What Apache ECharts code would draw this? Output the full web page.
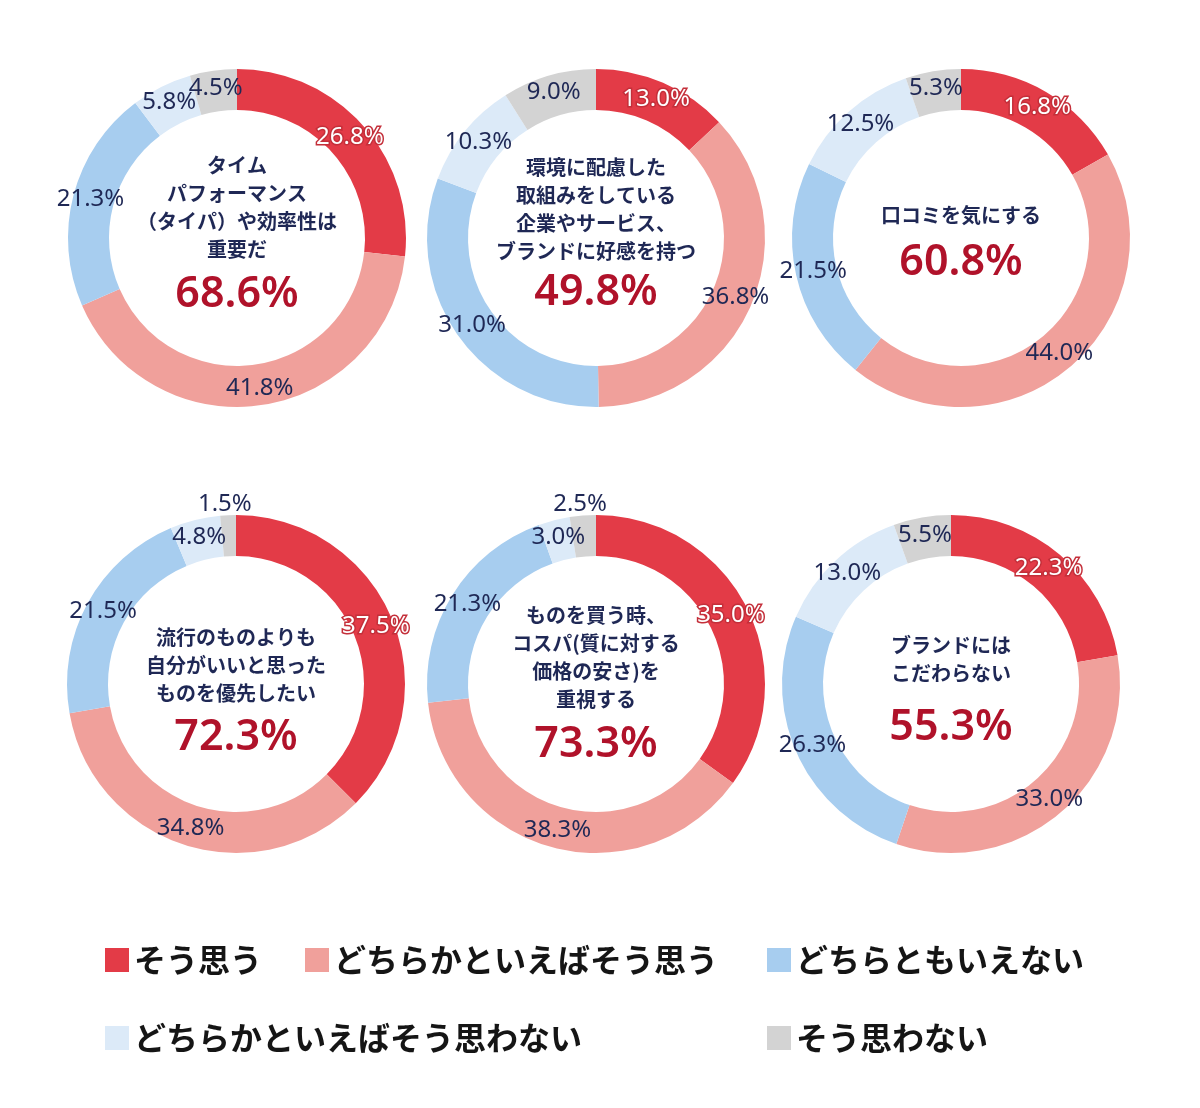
<!DOCTYPE html>
<html>
<head>
<meta charset="utf-8">
<script src="https://cdn.jsdelivr.net/npm/echarts@6/dist/echarts.min.js"></script>
<style>
html,body{margin:0;padding:0;background:#fff;}
#main{width:1200px;height:1108px;}
</style>
</head>
<body>
<div id="main"></div>
<script>
// 回答カテゴリ
var answers = ['そう思う','どちらかといえばそう思う','どちらともいえない','どちらかといえばそう思わない','そう思わない'];
var colors = ['#E33B47','#F0A09B','#A7CDEF','#DCEAF8','#D3D3D3'];

// 各設問の値（%）
var q1 = [26.8, 41.8, 21.3, 5.8, 4.5];
var q2 = [13.0, 36.8, 31.0, 10.3, 9.0];
var q3 = [16.8, 44.0, 21.5, 12.5, 5.3];
var q4 = [37.5, 34.8, 21.5, 4.8, 1.5];
var q5 = [35.0, 38.3, 21.3, 3.0, 2.5];
var q6 = [22.3, 33.0, 26.3, 13.0, 5.5];
var questions = [q1, q2, q3, q4, q5, q6];

// 肯定計
var positive = ['68.6%','49.8%','60.8%','72.3%','73.3%','55.3%'];

var titles = [
	['タイム','パフォーマンス','（タイパ）や効率性は','重要だ'],
	['環境に配慮した','取組みをしている','企業やサービス、','ブランドに好感を持つ'],
	['口コミを気にする'],
	['流行のものよりも','自分がいいと思った','ものを優先したい'],
	['ものを買う時、','コスパ(質に対する','価格の安さ)を','重視する'],
	['ブランドには','こだわらない']
];

// layout
var centers = [[237,238],[596,238],[961,238],[236,684],[596,684],[951,684]];
var titleY = [165,167,215,637,615,645];
var numberY = [295,293,263,738,745,728];

var navy = '#1F2855';
var numFont = "'Noto Sans','Noto Sans CJK JP',sans-serif";
var jpFont = "'Noto Sans CJK JP',sans-serif";

var chart = echarts.init(document.getElementById('main'));

var series = [];
var graphic = [];
for(var i=0;i<questions.length;i++){
	var data = [];
	for(var j=0;j<answers.length;j++){
		data.push({
			name: answers[j],
			value: questions[i][j],
			itemStyle: {color: colors[j]},
			label: {
				color: j==0 ? '#fff' : navy,
				textBorderColor: j==0 ? '#C42F3A' : 'transparent',
				textBorderWidth: j==0 ? 3 : 0
			}
		});
	}
	series.push({
		type: 'pie',
		center: centers[i],
		radius: [128, 169],
		startAngle: 90,
		clockwise: true,
		silent: true,
		label: {
			show: true,
			position: 'inside',
			fontFamily: numFont,
			fontSize: 24,
			formatter: function(p){ return p.value.toFixed(1) + '%'; }
		},
		labelLine: {show: false},
		labelLayout: function(p){
			// tiny slice: label sits just above the ring
			if(questions[p.seriesIndex][p.dataIndex] < 2.8){
				return {dx: -4, dy: -29, hideOverlap: false};
			}
			return {hideOverlap: false};
		},
		data: data
	});

	graphic.push({
		type: 'text',
		x: centers[i][0],
		y: titleY[i] - 14,
		style: {
			text: titles[i].join('\n'),
			fontFamily: jpFont,
			fontSize: 20,
			fontWeight: 'bold',
			lineHeight: 28,
			fill: navy,
			align: 'center',
			verticalAlign: 'top'
		}
	});
	graphic.push({
		type: 'text',
		x: centers[i][0],
		y: numberY[i],
		style: {
			text: positive[i],
			fontFamily: numFont,
			fontSize: 43,
			fontWeight: 600,
			fill: '#B0122A',
			align: 'center',
			verticalAlign: 'middle'
		}
	});
}

// legends placed one by one
var legendPos = [[105,944],[305,944],[767,944],[105,1022],[767,1022]];
var legends = [];
for(var k=0;k<answers.length;k++){
	legends.push({
		data: [answers[k]],
		left: legendPos[k][0],
		top: legendPos[k][1],
		padding: 0,
		icon: 'rect',
		itemWidth: 24,
		itemHeight: 24,
		selectedMode: false,
		textStyle: {
			fontFamily: jpFont,
			fontSize: 32,
			fontWeight: 'bold',
			color: '#151515'
		}
	});
}

chart.setOption({
	backgroundColor: '#fff',
	animation: false,
	legend: legends,
	graphic: graphic,
	series: series
});
</script>
</body>
</html>
